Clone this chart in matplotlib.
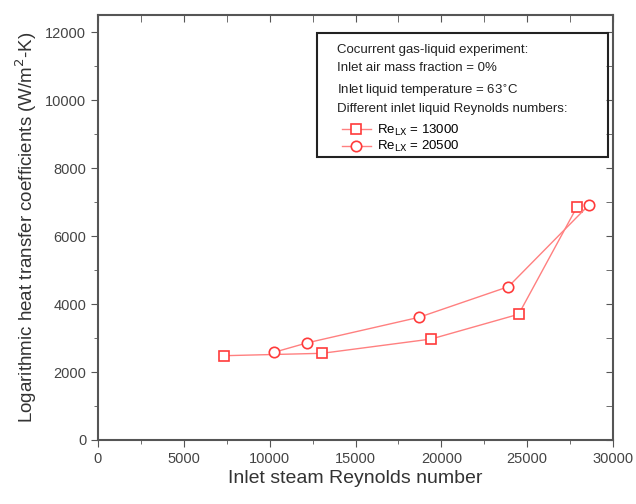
import matplotlib.pyplot as plt
from matplotlib.patches import Rectangle
from matplotlib.ticker import MultipleLocator

# Data
re_gas_13000 = [7350, 13050, 19400, 24500, 27900]
htc_13000 = [2480, 2550, 2970, 3700, 6860]
re_gas_20500 = [10250, 12200, 18700, 23900, 28600]
htc_20500 = [2580, 2860, 3610, 4510, 6920]

info_lines = ['Cocurrent gas-liquid experiment:',
              'Inlet air mass fraction = 0%',
              'Inlet liquid temperature = 63$^{\\circ}$C',
              'Different inlet liquid Reynolds numbers:']
series_labels = ['Re$_{\\mathrm{LX}}$ = 13000', 'Re$_{\\mathrm{LX}}$ = 20500']

plt.rcParams['font.family'] = ['Liberation Sans', 'DejaVu Sans']

fig = plt.figure(figsize=(6.36, 5.04), dpi=100)
ax = fig.add_axes([0.154, 0.127, 0.81, 0.843])

red = '#ff3b3b'
line_red = '#ff8080'
l1, = ax.plot(re_gas_13000, htc_13000, color=line_red, lw=1, marker='s', ms=6.5,
              mfc='white', mec=red, mew=1.2, label=series_labels[0])
l2, = ax.plot(re_gas_20500, htc_20500, color=line_red, lw=1, marker='o', ms=7.5,
              mfc='white', mec=red, mew=1.2, label=series_labels[1])

ax.set_xlim(0, 30000)
ax.set_ylim(0, 12500)
ax.xaxis.set_major_locator(MultipleLocator(5000))
ax.xaxis.set_minor_locator(MultipleLocator(2500))
ax.yaxis.set_minor_locator(MultipleLocator(1000))
ax.set_yticks([0, 2000, 4000, 6000, 8000, 10000, 12000])

frame = '#555555'
for s in ax.spines.values():
    s.set_color(frame)
    s.set_linewidth(1.5)
ax.tick_params(which='both', direction='out', color=frame, labelcolor='#444444', labelsize=10.5)
ax.tick_params(which='major', length=5)
ax.tick_params(which='minor', length=3)

# inward ticks on top and right, like the original
axt = ax.secondary_xaxis('top')
axt.xaxis.set_major_locator(MultipleLocator(5000))
axt.xaxis.set_minor_locator(MultipleLocator(2500))
axt.tick_params(which='both', direction='in', color=frame, labeltop=False, length=5)
axr = ax.secondary_yaxis('right')
axr.yaxis.set_major_locator(MultipleLocator(2000))
axr.yaxis.set_minor_locator(MultipleLocator(1000))
axr.tick_params(which='both', direction='in', color=frame, labelright=False, length=5)
for sec in (axt, axr):
    for s in sec.spines.values():
        s.set_visible(False)

ax.set_xlabel('Inlet steam Reynolds number', fontsize=14, color='#333333', labelpad=3)
ax.set_ylabel('Logarithmic heat transfer coefficients (W/m$^{2}$-K)', fontsize=13.5,
              color='#333333', labelpad=4)

# annotation box
box = Rectangle((0.426, 0.666), 0.564, 0.292, transform=ax.transAxes,
                fill=False, ec='#222222', lw=1.5)
ax.add_patch(box)
ys = [0.918, 0.876, 0.821, 0.778]
for txt, yy in zip(info_lines, ys):
    ax.text(0.465, yy, txt, transform=ax.transAxes, fontsize=9.5,
            color='#222222', va='center')
leg = ax.legend(handles=[l1, l2], loc='upper left', bbox_to_anchor=(0.455, 0.768),
                frameon=False, fontsize=9.5, handlelength=2.2, handletextpad=0.5,
                labelspacing=0.1, borderpad=0.2)

fig.savefig('out.png', dpi=100)
